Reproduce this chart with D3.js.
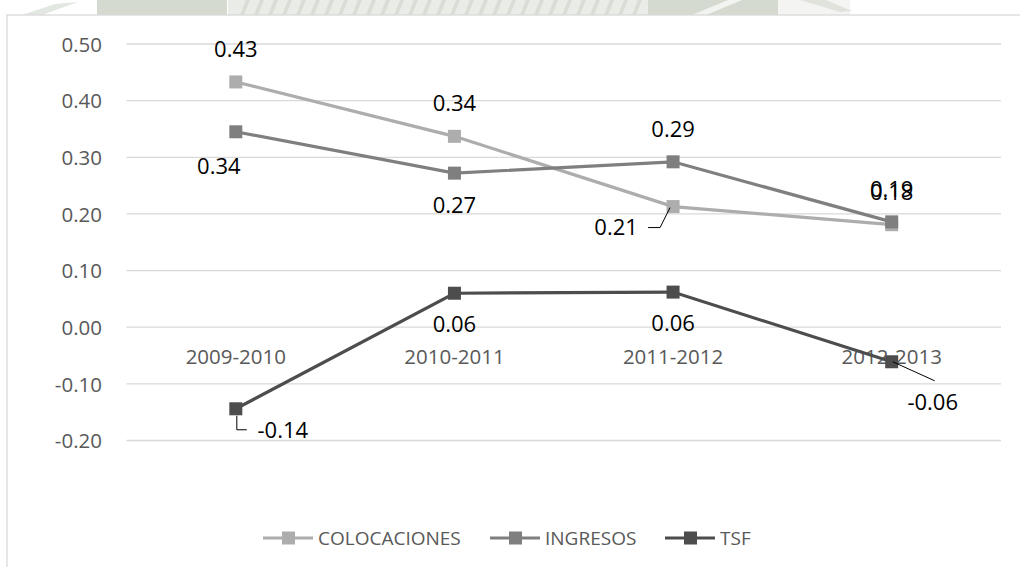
<!DOCTYPE html>
<html>
<head>
<meta charset="utf-8">
<script src="https://cdn.jsdelivr.net/npm/d3@7"></script>
<style>
  html, body { margin: 0; padding: 0; background: #fff; }
  svg { display: block; }
</style>
</head>
<body>
<svg id="chart" width="1020" height="567"></svg>
<script>
// Annual growth rates by period
const categories = ["2009-2010", "2010-2011", "2011-2012", "2012-2013"];
const colocaciones = [0.433, 0.337, 0.213, 0.181];
const ingresos = [0.345, 0.272, 0.292, 0.186];
const tsf = [-0.144, 0.060, 0.062, -0.061];
const seriesNames = ["COLOCACIONES", "INGRESOS", "TSF"];
const yTicks = [0.5, 0.4, 0.3, 0.2, 0.1, 0.0, -0.1, -0.2];

const colors = { COLOCACIONES: "#adadad", INGRESOS: "#7f7f7f", TSF: "#4d4d4d" };
const FONT = "'Open Sans', sans-serif";

const svg = d3.select("#chart");
const W = 1020, H = 567;

// Faint decorative strip above the chart frame
const wm = svg.append("g");
wm.append("polygon").attr("points", "22,15 55,4 78,2 42,15").attr("fill", "#e3e7e1");
wm.append("rect").attr("x", 97).attr("y", 0).attr("width", 130).attr("height", 15).attr("fill", "#d4dad0");
wm.append("rect").attr("x", 228).attr("y", 0).attr("width", 420).attr("height", 15).attr("fill", "#e9ece7");
d3.range(240, 640, 14).forEach(x => {
  wm.append("polygon").attr("points", `${x},15 ${x + 6},0 ${x + 10},0 ${x + 4},15`).attr("fill", "#d8ded5");
});
wm.append("rect").attr("x", 648).attr("y", 0).attr("width", 130).attr("height", 15).attr("fill", "#d4dad0");
wm.append("polygon").attr("points", "692,15 728,0 742,0 706,15").attr("fill", "#f2f4f1");
wm.append("rect").attr("x", 778).attr("y", 0).attr("width", 72).attr("height", 15).attr("fill", "#f4f5f3");
wm.append("polygon").attr("points", "800,0 826,0 852,11 840,12").attr("fill", "#dfe3dc");

// Chart frame
svg.append("rect").attr("x", 7).attr("y", 15).attr("width", W).attr("height", H)
  .attr("fill", "#fff").attr("stroke", "#d9d9d9").attr("stroke-width", 1.3);

const x = d3.scaleBand().domain(categories).range([126.5, 1001]);
const y = d3.scaleLinear().domain([-0.2, 0.5]).range([440.5, 44]);

// Gridlines
svg.append("g").selectAll("line").data(yTicks).join("line")
  .attr("x1", x.range()[0]).attr("x2", x.range()[1])
  .attr("y1", d => y(d)).attr("y2", d => y(d))
  .attr("stroke", "#d9d9d9").attr("stroke-width", 1.3);

// Y axis labels
const yAxis = d3.axisLeft(y).tickValues(yTicks).tickFormat(d => d3.format(".2f")(d).replace("\u2212", "-"))
  .tickSize(0).tickPadding(0);
const yg = svg.append("g").attr("transform", "translate(102,0)").call(yAxis);
yg.select(".domain").remove();
yg.selectAll("text").attr("fill", "#595959").attr("dy", "0.35em")
  .style("font-family", FONT).style("font-size", "20.5px");

// Category labels just below the zero line
const xAxis = d3.axisBottom(x).tickSize(0).tickPadding(0);
const xg = svg.append("g").attr("transform", `translate(0,${y(0) + 22})`).call(xAxis);
xg.select(".domain").remove();
xg.selectAll("text").attr("fill", "#595959").attr("dy", "0.71em")
  .style("font-family", FONT).style("font-size", "20.5px");

const cx = c => x(c) + x.bandwidth() / 2;
const data = { COLOCACIONES: colocaciones, INGRESOS: ingresos, TSF: tsf };

const line = d3.line().x((d, i) => cx(categories[i])).y(d => y(d));
const plot = svg.append("g");
seriesNames.forEach(name => {
  const vals = data[name];
  plot.append("path").datum(vals).attr("d", line)
    .attr("fill", "none").attr("stroke", colors[name]).attr("stroke-width", 3.2);
  plot.selectAll(null).data(vals).join("rect")
    .attr("x", (d, i) => cx(categories[i]) - 6.5).attr("y", d => y(d) - 6.5)
    .attr("width", 13).attr("height", 13).attr("fill", colors[name]);
});

// Data labels: offsets relative to each marker
const labelOffsets = {
  COLOCACIONES: [[0, -33], [0, -33], [-57, 21], [0, -33]],
  INGRESOS: [[-17, 34], [0, 32], [0, -33], [0, -33]],
  TSF: [[47, 21], [0, 31], [0, 31], [41, 40]]
};
const fmt = v => d3.format(".2f")(v).replace("\u2212", "-");
const lbl = svg.append("g").style("font-family", FONT).style("font-size", "22px").attr("fill", "#000");
seriesNames.forEach(name => {
  data[name].forEach((v, i) => {
    const [dx, dy] = labelOffsets[name][i];
    lbl.append("text").attr("x", cx(categories[i]) + dx).attr("y", y(v) + dy)
      .attr("text-anchor", "middle").attr("dy", "0.36em").text(fmt(v));
  });
});

// Leader lines for displaced labels
const leader = svg.append("g").attr("fill", "none").attr("stroke", "#000").attr("stroke-width", 1);
{
  const mx = cx(categories[2]), my = y(colocaciones[2]);
  leader.append("polyline").attr("points", `${mx - 25},${my + 21} ${mx - 13},${my + 21} ${mx - 3},${my + 1}`);
}
{
  const mx = cx(categories[0]), my = y(tsf[0]);
  leader.append("polyline").attr("points", `${mx + 1},${my + 7} ${mx + 1},${my + 21} ${mx + 11},${my + 21}`);
}
{
  const mx = cx(categories[3]), my = y(tsf[3]);
  leader.append("line").attr("x1", mx + 1).attr("y1", my).attr("x2", mx + 43).attr("y2", my + 19);
}

// Legend
const legendItems = [
  { name: "COLOCACIONES", x: 263 },
  { name: "INGRESOS", x: 490 },
  { name: "TSF", x: 665 }
];
const lg = svg.append("g");
const ly = 538;
legendItems.forEach(it => {
  lg.append("line").attr("x1", it.x).attr("x2", it.x + 50).attr("y1", ly).attr("y2", ly)
    .attr("stroke", colors[it.name]).attr("stroke-width", 3.2);
  lg.append("rect").attr("x", it.x + 19).attr("y", ly - 6.5).attr("width", 13).attr("height", 13).attr("fill", colors[it.name]);
  lg.append("text").attr("x", it.x + 55).attr("y", ly).attr("dy", "0.36em")
    .attr("fill", "#595959").style("font-family", FONT).style("font-size", "19px").text(it.name);
});
</script>
</body>
</html>
